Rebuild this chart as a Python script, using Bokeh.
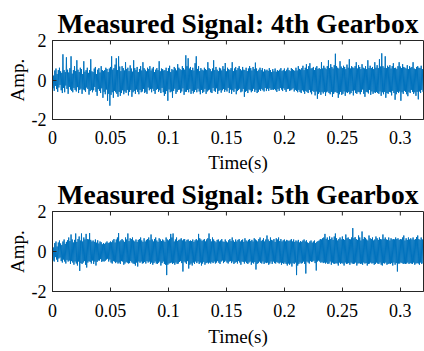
from bokeh.plotting import figure
from bokeh.layouts import column
from bokeh.models import Range1d, FixedTicker, Spacer
from bokeh.embed import file_html
from bokeh.resources import INLINE
import numpy as np

# ---- data (sample step 0.5 ms) ----
dt = 0.0005
titles = ["Measured Signal: 4th Gearbox", "Measured Signal: 5th Gearbox"]
x_ticks = [0, 0.05, 0.1, 0.15, 0.2, 0.25, 0.3]
x_tick_labels = ["0", "0.05", "0.1", "0.15", "0.2", "0.25", "0.3"]
y_ticks = [-2, 0, 2]
y_tick_labels = ["-2", "0", "2"]

gear4 = [
    0.35,-0.42,0.22,-0.55,0.48,-0.3,0.58,-0.46,0.3,-0.6,
    0.5,-0.38,0.62,-0.25,0.44,-0.52,0.36,-0.66,1.3,-0.4,
    0.5,-0.62,0.4,-0.28,1.15,-0.45,0.52,-0.7,0.38,-0.35,
    0.6,-0.48,1.2,-0.55,0.32,-0.62,0.5,-0.4,0.7,-0.5,
    0.45,-0.58,1.0,-0.36,0.52,-0.66,0.4,-0.5,0.62,-0.44,
    0.55,-0.7,0.3,-0.48,0.95,-0.52,0.42,-0.6,0.5,-0.38,
    0.62,-0.45,0.36,-0.74,0.5,-0.56,1.05,-0.5,0.44,-0.62,
    0.4,-0.52,0.58,-0.35,0.66,-0.6,0.3,-0.8,0.52,-0.46,
    0.6,-0.55,0.38,-0.66,0.7,-0.42,0.5,-0.9,0.45,-0.6,
    0.5,-0.72,0.62,-0.48,0.56,-1.05,0.4,-0.7,0.58,-1.3,
    0.66,-0.75,1.2,-0.62,0.52,-0.9,0.6,-0.55,0.78,-0.62,
    1.1,-0.7,0.5,-0.85,1.2,-0.6,0.68,-0.8,0.45,-0.66,
    0.7,-0.52,0.6,-0.72,0.48,-0.58,0.9,-0.65,0.55,-0.5,
    0.62,-0.78,0.45,-0.6,0.74,-0.5,0.58,-0.85,0.42,-0.62,
    1.0,-0.55,0.6,-0.7,0.5,-0.48,0.66,-0.6,0.4,-0.72,
    0.56,-0.5,0.7,-0.62,0.48,-0.58,0.9,-0.45,0.6,-0.66,
    0.52,-0.6,0.44,-0.7,0.62,-0.38,0.55,-0.52,0.7,-0.46,
    0.48,-0.62,0.58,-0.44,0.66,-0.56,0.4,-0.7,0.52,-0.5,
    0.6,-0.45,0.5,-0.6,0.95,-0.52,0.44,-0.66,0.58,-0.4,
    0.55,-0.62,0.48,-0.8,0.5,-0.7,0.62,-0.56,0.45,-1.05,
    0.6,-0.48,0.72,-0.62,0.4,-0.58,0.55,-0.9,0.5,-0.55,
    0.66,-0.44,0.58,-0.7,0.48,-0.6,0.8,-0.5,0.62,-0.48,
    0.55,-0.66,0.5,-0.58,0.7,-0.42,0.6,-0.75,0.52,-0.6,
    1.25,-0.6,0.7,-0.5,1.1,-0.62,0.58,-0.45,0.66,-0.7,
    0.5,-0.55,0.62,-0.68,0.48,-0.6,0.85,-0.5,1.2,-0.62,
    0.56,-0.44,0.7,-0.58,0.45,-0.72,0.6,-0.5,0.52,-0.66,
    0.48,-0.6,0.62,-0.45,0.55,-0.7,0.5,-0.58,0.9,-0.52,
    0.6,-0.48,0.55,-0.62,0.44,-0.66,0.58,-0.4,1.0,-0.55,
    0.5,-0.6,0.66,-0.42,0.52,-0.7,0.45,-0.55,0.62,-0.5,
    0.58,-0.64,0.48,-0.52,0.7,-0.45,0.56,-0.6,0.86,-0.5,
    0.44,-0.58,0.62,-0.4,0.55,-0.66,0.5,-0.48,0.6,-0.7,
    0.9,-0.52,0.45,-0.6,0.58,-0.44,0.66,-0.72,0.5,-0.56,
    0.6,-0.5,0.7,-0.44,0.55,-0.62,0.48,-0.58,0.66,-0.45,
    0.52,-0.85,0.5,-0.6,0.62,-0.55,0.45,-0.66,0.58,-0.48,
    0.7,-0.52,0.6,-0.62,0.48,-0.56,0.66,-0.44,0.55,-0.6,
    0.88,-0.5,0.58,-0.66,0.45,-0.6,0.52,-0.48,0.62,-0.55,
    0.5,-0.45,0.6,-0.52,0.42,-0.58,0.55,-0.4,0.48,-0.56,
    0.52,-0.44,0.46,-0.55,0.6,-0.42,0.5,-0.5,0.4,-0.48,
    0.55,-0.5,0.44,-0.46,0.58,-0.52,0.42,-0.6,0.5,-0.45,
    0.46,-0.55,0.52,-0.4,0.6,-0.48,0.45,-0.56,0.5,-0.42,
    0.58,-0.5,0.44,-0.6,0.52,-0.46,0.62,-0.44,0.5,-0.55,
    0.45,-0.52,0.6,-0.48,0.55,-0.42,0.5,-0.58,0.46,-0.5,
    0.62,-0.55,0.48,-0.62,0.7,-0.5,0.56,-0.6,0.52,-0.66,
    0.6,-0.52,0.72,-0.58,0.5,-0.7,0.62,-0.55,0.8,-0.6,
    0.55,-0.66,0.7,-0.5,0.85,-0.62,0.58,-0.72,0.6,-0.55,
    0.66,-0.6,0.5,-0.78,0.62,-0.58,0.7,-0.95,0.55,-0.7,
    0.6,-0.62,0.55,-0.75,0.9,-0.6,0.58,-0.68,0.72,-0.6,
    0.62,-0.8,0.55,-0.62,0.7,-0.58,1.0,-0.66,0.6,-0.72,
    0.8,-0.6,0.66,-0.85,0.58,-0.7,0.75,-0.62,1.33,-0.6,
    0.7,-0.66,0.62,-0.9,0.58,-0.72,0.95,-0.6,0.68,-0.75,
    0.6,-0.7,0.72,-0.58,0.66,-0.8,0.55,-0.62,0.78,-0.66,
    0.62,-0.6,1.05,-0.72,0.58,-0.66,0.7,-0.55,0.64,-0.78,
    0.6,-0.52,0.7,-0.66,0.9,-0.7,0.58,-0.6,0.75,-0.62,
    0.66,-0.72,0.55,-0.6,0.8,-0.48,0.62,-0.7,0.58,-0.85,
    0.7,-0.6,0.55,-0.62,1.0,-0.68,0.6,-0.5,0.72,-0.75,
    0.6,-0.58,0.66,-0.7,0.55,-0.62,0.9,-0.66,0.62,-0.6,
    0.75,-0.66,0.6,-0.7,1.05,-0.58,0.68,-0.8,1.35,-0.62,
    0.7,-0.72,0.62,-0.6,1.2,-0.9,0.6,-0.66,0.72,-0.7,
    0.66,-0.6,0.75,-0.62,0.58,-0.78,0.7,-0.55,0.85,-0.66,
    0.6,-1.0,0.62,-0.72,0.55,-0.6,0.7,-0.66,0.9,-0.58,
    0.68,-1.05,0.6,-0.62,0.8,-0.7,0.66,-0.55,0.62,-0.6,
    0.58,-0.72,0.75,-0.82,0.55,-0.6,0.7,-0.66,0.62,-0.5,
    0.66,-0.6,0.9,-0.7,0.58,-0.62,0.55,-0.8,0.66,-0.6,
    0.7,-0.98,0.62,-0.58,0.6,-0.66,0.72,-0.5,0.55,-0.6,
]

gear5 = [
    0.3,-0.45,0.2,-0.5,0.42,-0.28,0.5,-0.4,0.25,-0.52,
    0.45,-0.35,0.55,-0.3,0.4,-0.48,0.32,-0.55,0.5,-0.4,
    0.6,-0.5,0.38,-0.6,0.48,-0.42,0.56,-0.5,0.7,-0.45,
    0.52,-0.62,0.85,-0.48,0.6,-0.55,0.45,-0.66,0.58,-0.5,
    0.9,-0.6,0.48,-0.7,0.62,-0.5,0.75,-0.97,0.55,-0.58,
    0.9,-0.62,0.5,-0.55,0.7,-0.48,0.6,-0.66,0.88,-0.8,
    0.62,-0.55,0.6,-0.48,0.92,-0.52,0.58,-0.6,0.5,-0.45,
    0.55,-0.62,0.48,-0.5,0.6,-0.7,0.44,-0.52,0.56,-0.45,
    0.4,-0.45,0.5,-0.38,0.46,-0.52,0.36,-0.48,0.42,-0.5,
    0.38,-0.46,0.44,-0.4,0.5,-0.36,0.42,-0.5,0.45,-0.4,
    0.5,-0.55,0.46,-0.6,0.55,-0.48,0.62,-0.5,0.45,-0.58,
    0.6,-0.52,0.7,-0.6,0.92,-0.55,0.5,-0.62,0.56,-0.48,
    0.62,-0.5,0.55,-0.66,0.48,-0.6,0.7,-0.52,0.6,-0.56,
    0.9,-0.6,0.52,-0.58,0.66,-0.48,0.62,-0.55,0.7,-0.6,
    0.55,-0.62,0.5,-0.7,0.6,-0.55,0.48,-0.75,0.58,-0.5,
    0.62,-0.56,0.7,-0.5,0.55,-0.6,0.48,-0.58,0.66,-0.52,
    0.5,-0.6,0.58,-0.48,0.62,-0.55,0.7,-0.5,0.56,-0.62,
    0.85,-0.55,0.6,-0.66,0.5,-0.58,0.62,-0.5,0.7,-0.6,
    0.55,-0.62,0.48,-0.56,0.66,-0.5,0.6,-0.7,0.52,-0.58,
    0.6,-0.5,0.55,-0.62,0.48,-0.66,0.7,-1.18,0.6,-0.66,
    0.55,-0.6,0.62,-0.58,0.88,-0.55,0.7,-0.62,0.9,-0.58,
    0.5,-0.66,0.6,-0.55,0.7,-0.62,0.52,-0.6,0.58,-0.52,
    0.6,-0.48,0.66,-0.58,0.55,-1.0,0.6,-0.5,0.62,-0.55,
    0.5,-0.62,0.58,-0.48,0.6,-0.85,0.52,-0.66,0.55,-0.6,
    0.52,-0.7,0.6,-0.55,0.48,-0.62,0.56,-0.5,0.62,-0.58,
    0.55,-0.5,0.88,-0.62,0.66,-0.55,0.6,-0.7,0.52,-0.6,
    0.58,-0.52,0.62,-0.66,0.5,-0.58,0.6,-0.55,0.66,-0.6,
    0.9,-0.55,0.62,-0.6,0.5,-0.52,0.7,-0.58,0.6,-0.5,
    0.52,-0.6,0.46,-0.55,0.58,-0.48,0.6,-0.56,0.5,-0.62,
    0.55,-0.5,0.62,-0.45,0.5,-0.58,0.48,-0.52,0.6,-0.46,
    0.5,-0.55,0.45,-0.6,0.56,-0.5,0.62,-0.48,0.52,-0.58,
    0.7,-0.5,0.55,-0.62,0.48,-0.56,0.6,-0.52,0.5,-0.6,
    0.58,-0.48,0.62,-0.55,0.5,-0.66,0.56,-0.5,0.6,-0.52,
    0.48,-0.6,0.66,-0.5,0.55,-0.58,0.5,-0.62,0.58,-0.55,
    0.62,-0.5,0.52,-0.66,0.58,-0.55,0.5,-0.6,0.66,-0.52,
    0.6,-0.9,0.55,-0.62,0.5,-0.58,0.62,-0.5,0.7,-0.56,
    0.52,-0.6,0.58,-0.5,0.66,-0.62,0.5,-0.55,0.6,-0.58,
    0.8,-0.55,0.6,-0.66,0.52,-0.6,0.7,-0.5,0.58,-0.62,
    0.55,-0.5,0.62,-0.58,0.48,-0.6,0.66,-0.52,0.6,-0.56,
    0.7,-0.6,0.52,-0.55,0.62,-0.66,0.5,-0.58,0.56,-0.62,
    0.6,-0.55,0.5,-0.62,0.58,-0.7,0.55,-0.6,0.52,-0.66,
    0.56,-0.6,0.62,-0.75,0.5,-0.58,0.6,-0.62,0.48,-0.55,
    0.55,-1.18,0.5,-0.7,0.58,-0.62,0.45,-0.55,0.52,-0.6,
    0.48,-0.58,0.55,-0.5,0.6,-0.62,0.5,-1.1,0.56,-0.5,
    0.45,-0.55,0.42,-0.6,0.5,-0.48,0.55,-0.52,0.44,-0.5,
    0.5,-0.46,0.55,-0.58,0.42,-0.95,0.48,-0.5,0.52,-0.45,
    0.55,-0.5,0.62,-0.56,0.6,-0.52,0.66,-0.58,0.7,-0.55,
    0.88,-0.6,0.62,-0.55,0.7,-0.62,0.58,-0.6,0.75,-0.5,
    0.62,-0.66,0.7,-0.55,0.58,-0.6,0.75,-0.62,0.9,-0.58,
    0.66,-0.6,0.55,-0.7,0.62,-0.55,0.7,-0.62,0.6,-0.58,
    0.75,-0.6,0.62,-0.7,0.58,-0.55,0.85,-0.62,0.66,-0.6,
    0.7,-0.58,0.62,-0.66,0.6,-0.55,0.7,-0.6,1.17,-0.62,
    0.66,-0.6,0.72,-0.55,0.62,-0.7,0.58,-0.6,0.8,-0.58,
    0.7,-0.62,0.55,-0.6,1.0,-0.66,0.62,-0.55,0.72,-0.6,
    0.68,-0.58,0.6,-0.7,0.55,-0.62,0.8,-0.6,0.66,-0.55,
    0.62,-0.6,0.7,-0.58,0.55,-0.66,0.6,-0.62,0.75,-0.55,
    0.66,-0.6,0.58,-0.62,0.7,-0.55,0.62,-0.66,0.6,-0.7,
    0.85,-0.58,0.62,-0.6,0.7,-0.55,0.6,-0.66,0.58,-0.62,
    0.7,-0.6,0.55,-0.62,0.66,-0.58,0.6,-0.7,0.62,-0.55,
    0.6,-0.66,0.7,-0.58,0.62,-1.0,0.66,-0.6,0.58,-0.6,
    0.62,-0.55,0.6,-0.58,0.7,-0.62,0.8,-0.6,0.55,-0.62,
    0.66,-0.6,0.58,-0.55,0.7,-0.62,0.6,-0.58,0.66,-0.6,
    0.6,-0.62,0.7,-0.55,0.58,-0.66,0.62,-0.6,0.72,-0.58,
    0.8,-0.6,0.62,-0.66,0.58,-0.55,0.7,-0.62,0.6,-0.58,
]

FONT = "Liberation Serif"
AX = "#262626"
BLUE = "#0072BD"


def make(title, values, height, top, bottom, tick_standoff, label_standoff):
    p = figure(width=424, height=height, output_backend="svg", toolbar_location=None,
               x_range=Range1d(0, 0.32), y_range=Range1d(-2, 2),
               min_border_left=52, min_border_right=1,
               min_border_top=top, min_border_bottom=bottom)
    t = np.arange(len(values)) * dt
    p.line(t, values, line_color=BLUE, line_width=1.0)
    # mirrored inward ticks along the top edge of the box
    n = len(x_ticks)
    p.segment(x0=x_ticks, x1=x_ticks, y0=[y_ticks[-1]] * n, y1=[y_ticks[-1] - 0.2] * n,
              line_color=AX, line_width=1)
    p.title.text = title
    p.title.text_font = FONT
    p.title.text_font_size = "27.5px"
    p.title.text_font_style = "bold"
    p.title.text_color = "black"
    p.title.align = "center"
    p.title.vertical_align = "top"
    p.title.standoff = 0
    p.grid.visible = False
    p.outline_line_color = AX
    p.outline_line_alpha = 1
    p.background_fill_color = "white"
    p.border_fill_color = "white"

    xa = p.xaxis[0]
    xa.ticker = FixedTicker(ticks=x_ticks)
    xa.major_label_overrides = {k: v for k, v in zip(x_ticks, x_tick_labels)}
    xa.axis_label = "Time(s)"
    xa.axis_label_standoff = label_standoff
    xa.major_label_standoff = tick_standoff
    ya = p.yaxis[0]
    ya.ticker = FixedTicker(ticks=y_ticks)
    ya.major_label_overrides = {k: v for k, v in zip(y_ticks, y_tick_labels)}
    ya.axis_label = "Amp."
    ya.axis_label_standoff = 1
    ya.major_label_standoff = 6
    for a in (xa, ya):
        a.axis_line_color = AX
        a.major_tick_line_color = AX
        a.major_tick_in = 4
        a.major_tick_out = 0
        a.minor_tick_line_color = None
        a.major_label_text_font = FONT
        a.major_label_text_font_size = "18px"
        a.major_label_text_color = "black"
        a.axis_label_text_font = FONT
        a.axis_label_text_font_size = "19px"
        a.axis_label_text_font_style = "normal"
        a.axis_label_text_color = "black"
    return p


p1 = make(titles[0], gear4, 176, 38, 59, 11, 5)
p2 = make(titles[1], gear5, 173, 32, 60, 12, 6)
layout = column(Spacer(width=424, height=2), p1, p2, spacing=0)

open("out.html", "w").write(file_html(layout, INLINE))
